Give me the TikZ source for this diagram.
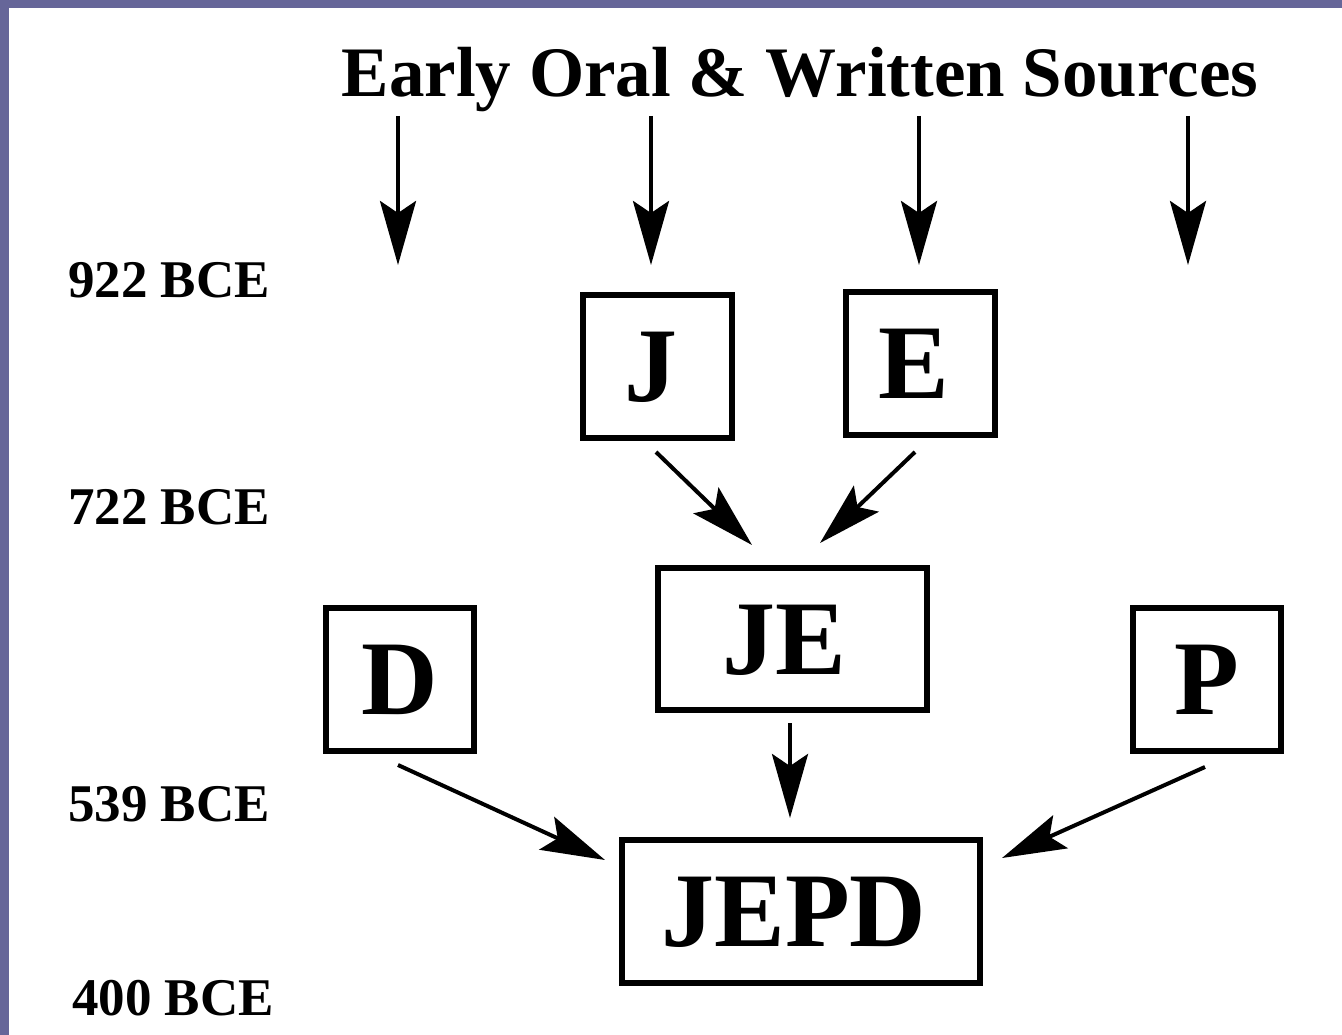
\documentclass[tikz,border=0pt]{standalone}
\usepackage{fontspec}
\setmainfont{Liberation Serif}
\usetikzlibrary{arrows.meta,calc}
\definecolor{framecol}{HTML}{666699}
\begin{document}
\begin{tikzpicture}[x=1pt,y=-1pt,
  box/.style={draw,line width=6pt,inner sep=0pt,outer sep=0pt,
    font=\fontsize{106}{106}\selectfont\bfseries,text height=70pt,text depth=0pt},
  arr/.style={line width=4pt,-{Stealth[length=64pt,width=36pt,inset=12pt]}},
  datelbl/.style={anchor=base west,inner sep=0pt,font=\fontsize{53}{53}\selectfont\bfseries},
  titlelbl/.style={anchor=base,inner sep=0pt,font=\fontsize{71}{71}\selectfont\bfseries}]
% background and frame
\fill[white] (0,0) rectangle (1342,1035);
\fill[framecol] (0,0) rectangle (8.5,1035);
\fill[framecol] (0,0) rectangle (1342,8);
\useasboundingbox (0,0) rectangle (1342,1035);

% title
\node[titlelbl] (title) at (800,97) {Early Oral \& Written Sources};

% dates
\node[datelbl] (d922) at (68,298) {922 BCE};
\node[datelbl] (d722) at (68,524) {722 BCE};
\node[datelbl] (d539) at (68,821) {539 BCE};
\node[datelbl] (d400) at (72,1015) {400 BCE};

% boxes
\node[box,minimum width=149pt,minimum height=143pt] (J) at (657.5,366.5) {\kern-14ptJ};
\node[box,minimum width=149pt,minimum height=143pt] (E) at (920.5,363.5) {\kern-14ptE};
\node[box,minimum width=269pt,minimum height=142pt] (JE) at (792.5,639) {\kern-16ptJE};
\node[box,minimum width=148pt,minimum height=143pt] (D) at (400,679.5) {D};
\node[box,minimum width=148pt,minimum height=143pt] (P) at (1207,679.5) {P};
\node[box,minimum width=358pt,minimum height=143pt] (JEPD) at (801,911.5) {\kern-14ptJEPD};

% source arrows
\coordinate (s1) at (398,116);  \coordinate (e1) at (398,265);
\coordinate (s2) at (651,116);  \coordinate (e2) at (651,265);
\coordinate (s3) at (919,116);  \coordinate (e3) at (919,265);
\coordinate (s4) at (1188,116); \coordinate (e4) at (1188,265);
\draw[arr] (s1) -- (e1);
\draw[arr] (s2) -- (e2);
\draw[arr] (s3) -- (e3);
\draw[arr] (s4) -- (e4);

% connectors
\draw[arr] ($(J.south)+(-1.5,14)$) -- ($(JE.north)+(-40.5,-23)$);
\draw[arr] ($(E.south)+(-5.5,17)$) -- ($(JE.north)+(27.5,-25)$);
\draw[arr] ($(JE.south)+(-2.5,13)$) -- ($(JEPD.north)+(-11,-22)$);
\draw[arr] ($(D.south)+(-2,14)$) -- ($(JEPD.west)+(-17,-51.5)$);
\draw[arr] ($(P.south)+(-2,16)$) -- ($(JEPD.east)+(22,-53.5)$);
\end{tikzpicture}
\end{document}
